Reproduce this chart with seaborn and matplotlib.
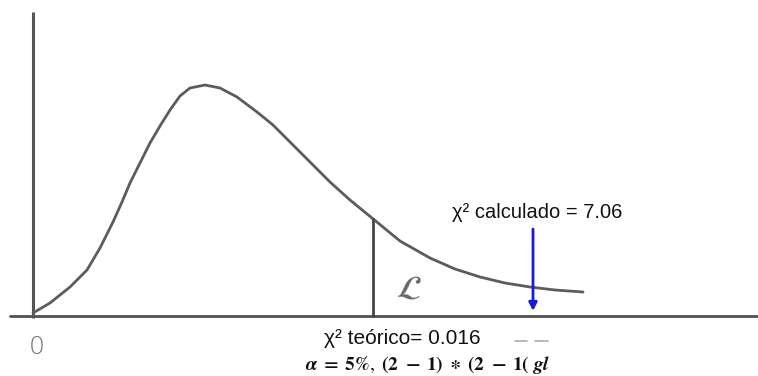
import numpy as np
import pandas as pd
import matplotlib.pyplot as plt
import seaborn as sns

sns.set_style("white")
plt.rcParams['font.family'] = ['Liberation Sans', 'DejaVu Sans']
plt.rcParams['mathtext.fontset'] = 'stix'

# hand-drawn chi-square curve (canvas units, y grows downwards)
curve_x = [33, 50, 70, 87, 100, 113, 122, 130, 140, 150, 160, 170, 180, 190,
           205, 220, 237, 257, 273, 290, 310, 330, 350, 372, 400, 430, 455,
           480, 505, 530, 555, 583]
curve_y = [313, 303, 287, 270, 248, 222, 202, 183, 163, 143, 126, 110, 96, 88,
           85, 88, 97, 112, 125, 142, 162, 182, 200, 218, 241, 258, 269,
           277, 283, 287, 290, 292]

chi_teorico = 0.016
chi_calculado = 7.06
critical_x = 373      # position of the cut line in the sketch
calculado_x = 533     # position of the blue arrow

df = pd.DataFrame({"x": curve_x, "y": curve_y})

fig = plt.figure(figsize=(7.58, 3.76), dpi=100)
ax = fig.add_axes([0, 0, 1, 1])
ax.set_xlim(0, 758)
ax.set_ylim(376, 0)
ax.axis("off")

# axes of the sketch
ax.plot([33, 33], [12, 318], color="#555555", lw=2.2, solid_capstyle="butt")
ax.plot([10, 758], [316, 316], color="#505050", lw=2.0)

sns.lineplot(data=df, x="x", y="y", ax=ax, color="#5c5c5c", lw=2.0, sort=False,
             solid_joinstyle="round", solid_capstyle="round")

# cut line at the theoretical value
cut_y = np.interp(critical_x, curve_x, curve_y)
ax.plot([critical_x, critical_x], [cut_y, 316], color="#444444", lw=2.0)

ax.text(410, 289, r"$\mathcal{L}$", fontsize=25, color="#666666",
        ha="center", va="center", rotation=-12)

# blue arrow for the calculated value
ax.annotate("", xy=(calculado_x, 311), xytext=(calculado_x, 229),
            arrowprops=dict(arrowstyle="-|>", color="#1a1ad8", lw=2.0,
                            mutation_scale=12, shrinkA=0, shrinkB=0))

ax.text(537, 212, f"χ² calculado = {chi_calculado:.2f}", fontsize=14.5,
        ha="center", va="center", color="#111111")
ax.text(402, 339, f"χ² teórico= {chi_teorico:.3f}", fontsize=15,
        ha="center", va="center", color="#111111")
ax.text(428, 365,
        r"$\boldsymbol{\alpha\ =\ 5\%,\ (2\ -\ 1)\ \ast\ (2\ -\ 1(\ gl}$",
        fontsize=14, ha="center", va="center", color="#111111")

ax.text(37, 347, "0", fontsize=18, color="#707070", ha="center", va="center",
        family=["DejaVu Sans"], fontweight="light")
ax.plot([515, 527], [341, 341], color="#aaaaaa", lw=1.2)
ax.plot([535, 548], [341, 341], color="#aaaaaa", lw=1.2)

fig.savefig("out.png", dpi=100)
